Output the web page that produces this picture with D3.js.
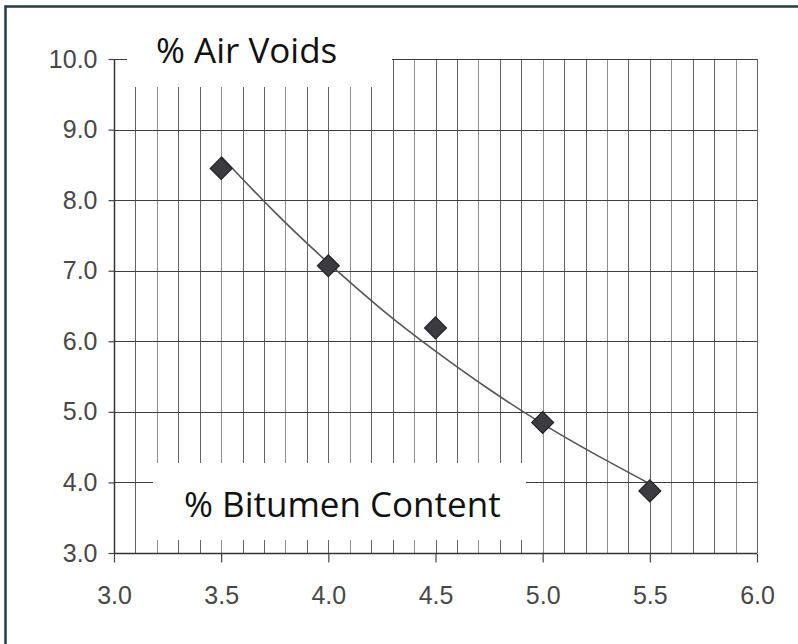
<!DOCTYPE html>
<html>
<head>
<meta charset="utf-8">
<script src="https://cdn.jsdelivr.net/npm/d3@7"></script>
<style>
    html, body { margin: 0; padding: 0; background: #ffffff; }
    svg { display: block; }
</style>
</head>
<body>
<div id="chart"></div>
<script>
    // data
    const bitumen = [3.5, 4.0, 4.5, 5.0, 5.5];
    const airVoids = [8.45, 7.07, 6.19, 4.85, 3.88];

    // trend curve
    const trendX = [3.5, 3.75, 4.0, 4.25, 4.5, 4.75, 5.0, 5.25, 5.5];
    const trendY = [8.62, 7.83, 7.11, 6.45, 5.86, 5.32, 4.83, 4.39, 3.98];

    const xTicks = [3.0, 3.5, 4.0, 4.5, 5.0, 5.5, 6.0];
    const yTicks = [3.0, 4.0, 5.0, 6.0, 7.0, 8.0, 9.0, 10.0];

    const titleTop = '% Air Voids';
    const titleBottom = '% Bitumen Content';

    const width = 798;
    const height = 644;

    const svg = d3.select('#chart')
        .append('svg')
        .attr('width', width)
        .attr('height', height);

    //frame
    svg.append('rect')
        .attr('x', 5.5)
        .attr('y', 6.5)
        .attr('width', width + 10)
        .attr('height', height + 10)
        .attr('fill', '#ffffff')
        .attr('stroke', '#2b3942')
        .attr('stroke-width', 2.5);

    //scales
    const x = d3.scaleLinear().domain([3, 6]).range([114, 757]);
    const y = d3.scaleLinear().domain([3, 10]).range([553, 59]);

    //grid lines
    const grid = svg.append('g').classed('grid', true);
    const xMinor = d3.range(31, 61).map(i => i / 10);
    grid.selectAll('line.v')
        .data(xMinor)
        .join('line')
        .attr('class', 'v')
        .attr('x1', d => Math.round(x(d)) + 0.5)
        .attr('x2', d => Math.round(x(d)) + 0.5)
        .attr('y1', y(10))
        .attr('y2', y(3))
        .attr('stroke', (d, i) => i % 3 === 1 ? '#8f8f8f' : '#626262')
        .attr('stroke-width', 1);
    grid.selectAll('line.h')
        .data(yTicks.slice(1))
        .join('line')
        .attr('class', 'h')
        .attr('x1', x(3))
        .attr('x2', x(6))
        .attr('y1', d => Math.round(y(d)) + 0.5)
        .attr('y2', d => Math.round(y(d)) + 0.5)
        .attr('stroke', '#3d3d45')
        .attr('stroke-width', 1.2);

    //white label boxes
    svg.append('rect')
        .attr('x', 127).attr('y', 10)
        .attr('width', 265).attr('height', 77)
        .attr('fill', '#ffffff');
    svg.append('rect')
        .attr('x', 153).attr('y', 463)
        .attr('width', 373).attr('height', 77)
        .attr('fill', '#ffffff');

    svg.append('text')
        .attr('x', 156)
        .attr('y', 63)
        .style('font-family', '"Open Sans", "Noto Sans", sans-serif')
        .style('font-size', '35px')
        .style('fill', '#111')
        .text(titleTop);
    svg.append('text')
        .attr('x', 184)
        .attr('y', 517)
        .style('font-family', '"Open Sans", "Noto Sans", sans-serif')
        .style('font-size', '35px')
        .style('fill', '#111')
        .text(titleBottom);

    //axes
    const yAxis = svg.append('g')
        .attr('transform', 'translate(114.5,0)')
        .call(d3.axisLeft(y).tickValues(yTicks).tickSize(6).tickPadding(11).tickFormat(d3.format('.1f')));
    const xAxis = svg.append('g')
        .attr('transform', 'translate(0,553.5)')
        .call(d3.axisBottom(x).tickValues(xTicks).tickSize(9).tickPadding(24).tickFormat(d3.format('.1f')));

    [yAxis, xAxis].forEach(a => {
        a.select('.domain').attr('stroke', '#333').attr('stroke-width', 1.5);
        a.selectAll('.tick line').attr('stroke', '#444').attr('stroke-width', 1.2);
        a.selectAll('.tick text')
            .style('font-family', '"Liberation Sans", Arial, sans-serif')
            .style('font-size', '25px')
            .style('fill', '#474747');
    });
    xAxis.select('.domain').attr('d', `M${x(3)},0H${x(6)}`);
    yAxis.select('.domain').attr('d', `M0,${y(3)}V${y(10)}`);

    //trend line
    const line = d3.line()
        .x((d, i) => x(trendX[i]))
        .y(d => y(d))
        .curve(d3.curveNatural);
    svg.append('path')
        .datum(trendY)
        .attr('d', line)
        .attr('fill', 'none')
        .attr('stroke', '#555')
        .attr('stroke-width', 1.6);

    //markers
    const diamond = d3.symbol().type(d3.symbolSquare).size(240);
    svg.selectAll('path.pt')
        .data(bitumen)
        .join('path')
        .attr('class', 'pt')
        .attr('d', diamond)
        .attr('transform', (d, i) => `translate(${x(d)},${y(airVoids[i])}) rotate(45)`)
        .attr('fill', '#3b3b40')
        .attr('stroke', '#222')
        .attr('stroke-width', 1.2);
</script>
</body>
</html>
